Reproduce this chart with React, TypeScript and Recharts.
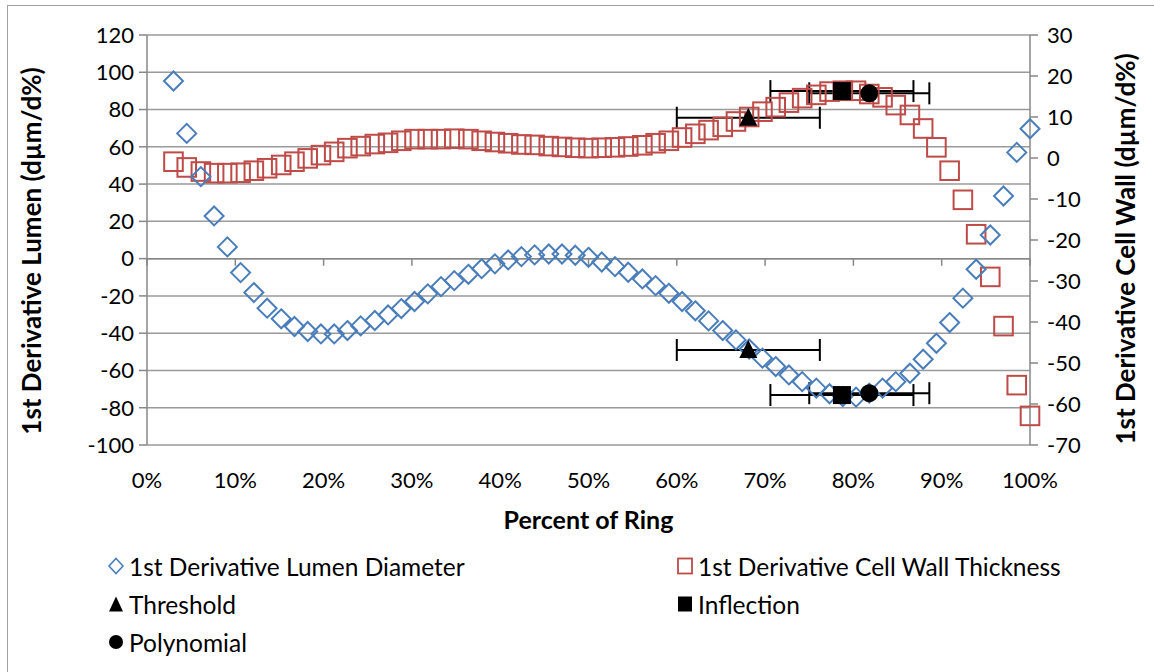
import React from 'react';
import { ScatterChart, Scatter, XAxis, YAxis, CartesianGrid, ErrorBar, ReferenceLine } from 'recharts';

const ringPercent = [
  3.0, 4.5, 6.1, 7.6, 9.1, 10.6, 12.1, 13.6, 15.2, 16.7, 18.2, 19.7, 21.2, 22.7, 24.2, 25.8,
  27.3, 28.8, 30.3, 31.8, 33.3, 34.8, 36.4, 37.9, 39.4, 40.9, 42.4, 43.9, 45.5, 47.0, 48.5,
  50.0, 51.5, 53.0, 54.5, 56.1, 57.6, 59.1, 60.6, 62.1, 63.6, 65.2, 66.7, 68.2, 69.7, 71.2,
  72.7, 74.2, 75.8, 77.3, 78.8, 80.3, 81.8, 83.3, 84.8, 86.4, 87.9, 89.4, 90.9, 92.4, 93.9,
  95.5, 97.0, 98.5, 100.0,
];

const lumenDeriv = [
  95.3, 67.2, 44, 22.9, 6.3, -7.5, -18.2, -26.6, -32.3, -36.4, -39.1, -40.4, -40.4, -38.6, -36.1,
  -33.2, -30.2, -26.8, -23, -18.9, -15, -11.8, -8.4, -5.4, -2.8, -0.7, 1.1, 2, 2.5, 2.5, 1.8, 0.7,
  -1.8, -4.3, -7.3, -10.9, -14.5, -18.6, -23, -28, -33.4, -38.6, -43.6, -48.5, -53.4, -57.9,
  -62.4, -66, -69.5, -72.5, -74, -74.3, -72.2, -69.5, -66, -61.5, -54, -45.4, -34.3, -21.2,
  -5.7, 12.7, 33.6, 57, 69.7,
];

const wallDeriv = [
  -0.9, -2.3, -3.3, -3.7, -3.7, -3.6, -3.1, -2.5, -1.7, -0.9, -0.1, 0.7, 1.5, 2.4, 2.9, 3.4,
  3.7, 4.2, 4.6, 4.6, 4.6, 4.7, 4.6, 4.2, 3.9, 3.6, 3.3, 3.2, 2.9, 2.7, 2.5, 2.4, 2.5, 2.6,
  2.8, 3.1, 3.6, 4.2, 5.0, 5.9, 6.8, 7.6, 8.9, 10, 11.3, 12.4, 13.5, 14.6, 15.4, 16.2, 16.4,
  16.4, 15.6, 14.8, 12.9, 10.5, 7.2, 2.6, -3.1, -10.2, -18.6, -29, -41, -55.4, -62.9,
];

const thresholdX = [68.1, 68.1];
const thresholdY = [75.6, -49];
const thresholdErr = [8.1, 8.1];

const inflectionX = [78.7, 78.7];
const inflectionY = [89.9, -73.2];
const inflectionErr = [8.1, 8.1];

const polynomialX = [81.8, 81.8];
const polynomialY = [88.7, -72.2];
const polynomialErr = [6.8, 6.8];

const xTicks = [0, 10, 20, 30, 40, 50, 60, 70, 80, 90, 100];
const leftTicks = [-100, -80, -60, -40, -20, 0, 20, 40, 60, 80, 100, 120];
const rightTicks = [-70, -60, -50, -40, -30, -20, -10, 0, 10, 20, 30];

const BLUE = '#4a7ebb';
const RED = '#be4b48';
const AXIS = '#878787';
const GRID = '#9a9a9a';
const FONT = 'Lato, "Open Sans", sans-serif';

const lumenData = ringPercent.map((x, i) => ({ x, y: lumenDeriv[i] }));
const wallData = ringPercent.map((x, i) => ({ x, y: wallDeriv[i] }));
const thresholdData = thresholdX.map((x, i) => ({ x, y: thresholdY[i], err: thresholdErr[i] }));
const inflectionData = inflectionX.map((x, i) => ({ x, y: inflectionY[i], err: inflectionErr[i] }));
const polynomialData = polynomialX.map((x, i) => ({ x, y: polynomialY[i], err: polynomialErr[i] }));

const DiamondShape = (p: any) => {
  const { cx, cy } = p;
  if (cx == null || cy == null) return null;
  const r = 9.5;
  return (
    <polygon
      points={`${cx},${cy - r} ${cx + r},${cy} ${cx},${cy + r} ${cx - r},${cy}`}
      fill="none"
      stroke={BLUE}
      strokeWidth={2}
    />
  );
};

const SquareShape = (p: any) => {
  const { cx, cy } = p;
  if (cx == null || cy == null) return null;
  const r = 9.3;
  return <rect x={cx - r} y={cy - r} width={2 * r} height={2 * r} fill="none" stroke={RED} strokeWidth={2} />;
};

const TriangleShape = (p: any) => {
  const { cx, cy } = p;
  if (cx == null || cy == null) return null;
  return <polygon points={`${cx},${cy - 10} ${cx + 9},${cy + 8} ${cx - 9},${cy + 8}`} fill="#000" />;
};

const BlackSquareShape = (p: any) => {
  const { cx, cy } = p;
  if (cx == null || cy == null) return null;
  return <rect x={cx - 9} y={cy - 9} width={18} height={18} fill="#000" />;
};

const CircleShape = (p: any) => {
  const { cx, cy } = p;
  if (cx == null || cy == null) return null;
  return <circle cx={cx} cy={cy} r={9} fill="#000" />;
};

const LeftTitle = (props: any) => {
  const vb = props.viewBox || {};
  const x = vb.x + 31;
  const y = vb.y + vb.height / 2 + 11;
  return (
    <text
      x={x}
      y={y}
      transform={`rotate(-90, ${x}, ${y})`}
      textAnchor="middle"
      dominantBaseline="central"
      fontFamily={FONT}
      fontWeight="bold"
      fontSize={26}
      fill="#000"
    >
      1st Derivative Lumen (dµm/d%)
    </text>
  );
};

const RightTitle = (props: any) => {
  const vb = props.viewBox || {};
  const x = vb.x + 95;
  const y = vb.y + vb.height / 2 + 9;
  return (
    <text
      x={x}
      y={y}
      transform={`rotate(-90, ${x}, ${y})`}
      textAnchor="middle"
      dominantBaseline="central"
      fontFamily={FONT}
      fontWeight="bold"
      fontSize={26}
      fill="#000"
    >
      1st Derivative Cell Wall (dµm/d%)
    </text>
  );
};

const BottomTitle = (props: any) => {
  const vb = props.viewBox || {};
  const x = vb.x + vb.width / 2;
  const y = vb.y + 74;
  return (
    <text x={x} y={y} textAnchor="middle" dominantBaseline="central" fontFamily={FONT} fontWeight="bold" fontSize={25} fill="#000">
      Percent of Ring
    </text>
  );
};

const legendItems = [
  { label: '1st Derivative Lumen Diameter', kind: 'diamond', left: 107, top: 566 },
  { label: '1st Derivative Cell Wall Thickness', kind: 'square', left: 676, top: 566 },
  { label: 'Threshold', kind: 'triangle', left: 107, top: 604 },
  { label: 'Inflection', kind: 'blacksquare', left: 676, top: 604 },
  { label: 'Polynomial', kind: 'circle', left: 107, top: 642 },
];

const LegendMarker = ({ kind }: { kind: string }) => {
  return (
    <svg width={18} height={18} style={{ display: 'block' }}>
      {kind === 'diamond' && <polygon points="9,1.5 16,9 9,16.5 2,9" fill="none" stroke={BLUE} strokeWidth={1.6} />}
      {kind === 'square' && <rect x={2} y={1.5} width={14} height={15} fill="none" stroke={RED} strokeWidth={1.8} />}
      {kind === 'triangle' && <polygon points="9,1.5 16,16.5 2,16.5" fill="#000" />}
      {kind === 'blacksquare' && <rect x={2} y={1.5} width={14} height={15} fill="#000" />}
      {kind === 'circle' && <circle cx={9} cy={9} r={7} fill="#000" />}
    </svg>
  );
};

export default function App() {
  return (
    <div style={{ position: 'absolute', left: 0, top: 0, width: 1154, height: 672, background: '#fff', overflow: 'hidden' }}>
      <div style={{ position: 'absolute', left: 7, top: 5, width: 1160, height: 680, border: '1px solid #a0a0a0' }} />
      <div style={{ position: 'absolute', left: 0, top: 0 }}>
        <ScatterChart width={1154} height={672} margin={{ top: 35, right: 0, bottom: 137, left: 0 }}>
          <CartesianGrid yAxisId="left" vertical={false} horizontal stroke={GRID} strokeWidth={1.5} />
          <XAxis
            type="number"
            dataKey="x"
            domain={[0, 100]}
            ticks={xTicks}
            tickFormatter={(v: number) => `${v}%`}
            axisLine={false}
            tickLine={false}
            tickSize={0}
            tickMargin={27}
            height={90}
            interval={0}
            tick={{ fontFamily: FONT, fontSize: 22, fill: '#000' }}
            label={<BottomTitle />}
          />
          <YAxis
            yAxisId="left"
            type="number"
            dataKey="y"
            domain={[-100, 120]}
            ticks={leftTicks}
            interval={0}
            width={147}
            axisLine={{ stroke: AXIS, strokeWidth: 1.5 }}
            tickLine={{ stroke: AXIS, strokeWidth: 1.5 }}
            tickSize={8}
            tickMargin={5}
            tick={{ fontFamily: FONT, fontSize: 22, fill: '#000' }}
            label={<LeftTitle />}
          />
          <YAxis
            yAxisId="right"
            orientation="right"
            type="number"
            dataKey="y"
            domain={[-70, 30]}
            ticks={rightTicks}
            interval={0}
            width={124}
            axisLine={{ stroke: AXIS, strokeWidth: 1.5 }}
            tickLine={{ stroke: AXIS, strokeWidth: 1.5 }}
            tickSize={8}
            tickMargin={9}
            tick={{ fontFamily: FONT, fontSize: 22, fill: '#000' }}
            label={<RightTitle />}
          />
          <ReferenceLine yAxisId="left" y={0} stroke={AXIS} strokeWidth={1.5} />
          {xTicks.map((t) => (
            <ReferenceLine
              key={`xt-${t}`}
              yAxisId="left"
              segment={[{ x: t, y: 0 }, { x: t, y: -3.8 }]}
              stroke={AXIS}
              strokeWidth={1.5}
            />
          ))}
          <Scatter yAxisId="right" data={wallData} shape={<SquareShape />} isAnimationActive={false} />
          <Scatter yAxisId="left" data={lumenData} shape={<DiamondShape />} isAnimationActive={false} />
          <Scatter yAxisId="left" data={thresholdData} shape={<TriangleShape />} isAnimationActive={false}>
            <ErrorBar dataKey="err" direction="x" width={11} stroke="#000" strokeWidth={2} isAnimationActive={false} />
          </Scatter>
          <Scatter yAxisId="left" data={inflectionData} shape={<BlackSquareShape />} isAnimationActive={false}>
            <ErrorBar dataKey="err" direction="x" width={11} stroke="#000" strokeWidth={2} isAnimationActive={false} />
          </Scatter>
          <Scatter yAxisId="left" data={polynomialData} shape={<CircleShape />} isAnimationActive={false}>
            <ErrorBar dataKey="err" direction="x" width={11} stroke="#000" strokeWidth={2} isAnimationActive={false} />
          </Scatter>
        </ScatterChart>
      </div>
      {legendItems.map((it) => (
        <div
          key={it.label}
          style={{
            position: 'absolute',
            left: it.left,
            top: it.top - 15,
            height: 30,
            display: 'flex',
            alignItems: 'center',
            fontFamily: FONT,
            fontSize: 24.5,
            color: '#000',
            whiteSpace: 'nowrap',
          }}
        >
          <LegendMarker kind={it.kind} />
          <span style={{ marginLeft: 4 }}>{it.label}</span>
        </div>
      ))}
    </div>
  );
}
